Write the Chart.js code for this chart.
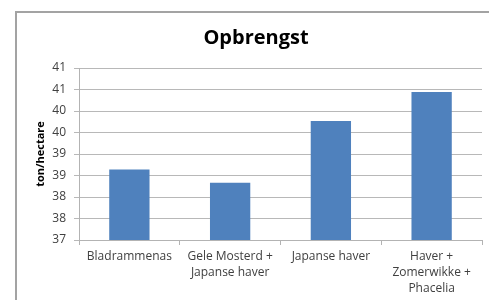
<!DOCTYPE html>
<html>
<head>
<meta charset="utf-8">
<script src="https://cdn.jsdelivr.net/npm/chart.js@4"></script>
<style>
  html, body { margin: 0; padding: 0; background: #ffffff; overflow: hidden; }
  #wrap { position: relative; width: 489px; height: 300px; }
  #frame { position: absolute; left: 15px; top: 11px; width: 520px; height: 320px; border: 2px solid #a3a3a3; box-sizing: border-box; }
  #c { position: absolute; left: 0; top: 0; }
</style>
</head>
<body>
<div id="wrap">
  <div id="frame"></div>
  <canvas id="c" width="489" height="300"></canvas>
</div>
<script>
const chartTitle = 'Opbrengst';
const yAxisTitle = 'ton/hectare';
const categories = [
  ['Bladrammenas'],
  ['Gele Mosterd +', 'Japanse haver'],
  ['Japanse haver'],
  ['Haver +', 'Zomerwikke +', 'Phacelia']
];
const yieldValues = [38.64, 38.33, 39.77, 40.44];
const yMin = 37;
const yMax = 41;
const yStep = 0.5;
const yTickLabels = ['37', '38', '38', '39', '39', '40', '40', '41', '41'];

const fontFamily = '"Open Sans", "Liberation Sans", sans-serif';

new Chart(document.getElementById('c'), {
  type: 'bar',
  data: {
    labels: categories,
    datasets: [{
      data: yieldValues,
      backgroundColor: '#4f81bd',
      borderWidth: 0,
      categoryPercentage: 1.0,
      barPercentage: 0.4
    }]
  },
  options: {
    responsive: false,
    animation: false,
    layout: { padding: { left: 30, right: 7, top: 0, bottom: 0 } },
    plugins: {
      legend: { display: false },
      tooltip: { enabled: false },
      title: {
        display: true,
        text: chartTitle,
        color: '#000000',
        font: { family: fontFamily, size: 20, weight: 'bold', lineHeight: 1.2 },
        padding: { top: 26, bottom: 18 }
      }
    },
    scales: {
      x: {
        offset: true,
        grid: {
          display: true,
          offset: true,
          drawOnChartArea: false,
          drawTicks: true,
          tickLength: 5,
          color: '#b3b3b3',
          tickColor: '#b3b3b3'
        },
        border: { display: true, color: '#b3b3b3', width: 1 },
        ticks: {
          color: '#404040',
          font: { family: fontFamily, size: 12, lineHeight: 1.33 },
          padding: 4,
          maxRotation: 0,
          minRotation: 0,
          autoSkip: false
        },
        afterFit: function (scale) { scale.height = 60; }
      },
      y: {
        min: yMin,
        max: yMax,
        grid: {
          color: '#b8b8b8',
          tickColor: '#b8b8b8',
          drawTicks: true,
          tickLength: 5,
          lineWidth: 1
        },
        border: { display: true, color: '#b3b3b3', width: 1 },
        ticks: {
          stepSize: yStep,
          color: '#404040',
          font: { family: fontFamily, size: 12 },
          padding: 8,
          callback: function (value, index) { return yTickLabels[index]; }
        },
        title: {
          display: true,
          text: yAxisTitle,
          color: '#000000',
          font: { family: fontFamily, size: 11, weight: 'bold', lineHeight: 1.2 },
          padding: { top: 4.4, bottom: 0 }
        },
        afterFit: function (scale) { scale.width = 49; }
      }
    }
  }
});
</script>
</body>
</html>
